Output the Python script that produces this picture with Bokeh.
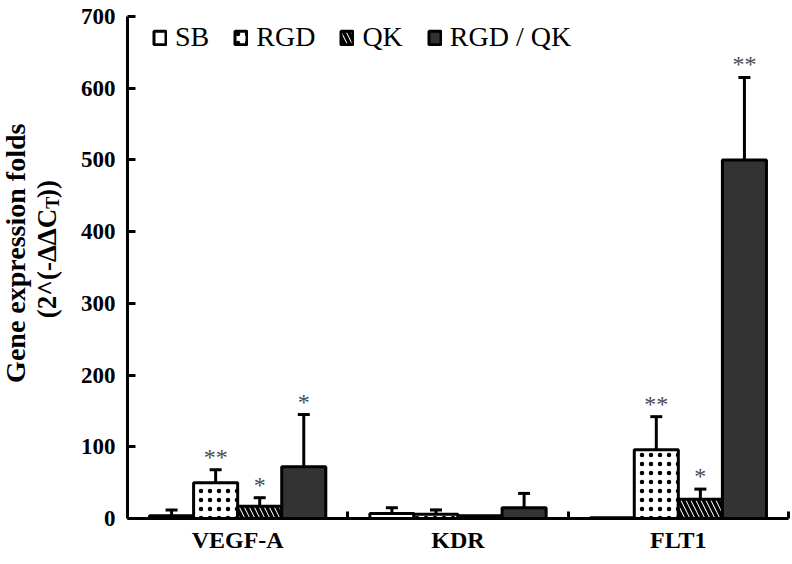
import math
from bokeh.plotting import figure
from bokeh.layouts import row
from bokeh.models import (ColumnDataSource, FixedTicker, Whisker, TeeHead, Label,
                          Legend, LegendItem, Range1d)
from bokeh.embed import file_html
from bokeh.resources import INLINE
from bokeh.core.properties import value

# ---------------- data ----------------
genes = ["VEGF-A", "KDR", "FLT1"]
series = ["SB", "RGD", "QK", "RGD / QK"]

sb = [4, 7, 1]
sb_err = [8, 8, 0]
rgd = [50, 6, 96]
rgd_err = [18, 6, 46]
qk = [17, 4, 27]
qk_err = [12, 0, 14]
rgdqk = [72, 15, 500]
rgdqk_err = [73, 20, 115]

sb_sig = ["", "", ""]
rgd_sig = ["**", "", "**"]
qk_sig = ["*", "", "*"]
rgdqk_sig = ["*", "", "**"]

y_ticks = [0, 100, 200, 300, 400, 500, 600, 700]

values = [sb, rgd, qk, rgdqk]
errors = [sb_err, rgd_err, qk_err, rgdqk_err]
sigs = [sb_sig, rgd_sig, qk_sig, rgdqk_sig]
offsets = [-0.3, -0.1, 0.1, 0.3]
bar_w = 0.2

styles = [
    dict(fill_color="white"),
    dict(fill_color="white", hatch_pattern="dot", hatch_color="black",
         hatch_scale=9, hatch_weight=1),
    dict(fill_color="white", hatch_pattern="left_diagonal_line", hatch_color="black",
         hatch_scale=10, hatch_weight=3.5),
    dict(fill_color="#333333"),
]

SERIF = "Liberation Serif"

W, H = 792, 564
TW = 70                       # width of the strip that holds the y title
BL, BR, BT, BB = 127 - TW, 4, 16, 46
MW = W - TW
FW, FH = MW - BL - BR, H - BT - BB

# ---------------- title strip (pixel coordinates, y measured from the top) ----------------
t = figure(width=TW, height=H, output_backend="svg", toolbar_location=None,
           x_range=Range1d(0, TW), y_range=Range1d(H, 0),
           x_axis_location=None, y_axis_location=None,
           min_border_left=0, min_border_right=0, min_border_top=0, min_border_bottom=0)
t.outline_line_color = None
t.xgrid.visible = False
t.ygrid.visible = False

title_kw = dict(angle=math.pi / 2, text_font=SERIF, text_font_style="bold",
                text_color="black", text_baseline="middle")
t.add_layout(Label(x=15, y=266, text="Gene expression folds", text_align="center",
                   text_font_size="28px", **title_kw))
# second line: "(2^(-ΔΔC" then subscript "T" then "))", reading bottom-to-top
t.add_layout(Label(x=46, y=216, text="(2^(-\u0394\u0394C", text_align="right",
                   text_font_size="27px", **title_kw))
t.add_layout(Label(x=52, y=216, text="T", text_align="left",
                   text_font_size="18px", **title_kw))
t.add_layout(Label(x=46, y=204, text="))", text_align="left",
                   text_font_size="27px", **title_kw))

# ---------------- main chart ----------------
p = figure(width=MW, height=H, output_backend="svg", toolbar_location=None,
           x_range=Range1d(0, 3), y_range=Range1d(0, 700),
           min_border_left=BL, min_border_right=BR, min_border_top=BT,
           min_border_bottom=BB)
p.outline_line_color = None
p.xgrid.visible = False
p.ygrid.visible = False
p.background_fill_color = "white"

legend_items = []
for k, name in enumerate(series):
    xs = [i + 0.5 + offsets[k] for i in range(len(genes))]
    src = ColumnDataSource(dict(x=xs, top=values[k]))
    r = p.vbar(x="x", top="top", width=bar_w, source=src, line_color="black",
               line_width=3, **styles[k])
    legend_items.append(LegendItem(label=name, renderers=[r]))

    wx, wl, wu = [], [], []
    for i in range(len(genes)):
        if errors[k][i] > 0:
            wx.append(xs[i]); wl.append(values[k][i]); wu.append(values[k][i] + errors[k][i])
    wsrc = ColumnDataSource(dict(x=wx, lower=wl, upper=wu))
    w = Whisker(base="x", lower="lower", upper="upper", source=wsrc, dimension="height",
                line_color="black", line_width=3, lower_head=None,
                upper_head=TeeHead(size=12, line_width=3, line_color="black"))
    p.add_layout(w)

    ssrc = ColumnDataSource(dict(x=xs, y=[values[k][i] + errors[k][i] for i in range(len(genes))],
                                 t=sigs[k]))
    p.text(x="x", y="y", text="t", source=ssrc, text_font=value(SERIF),
           text_font_size="24px", text_align="center", text_baseline="alphabetic",
           y_offset=-13, text_color="#4a4a4a")

# axes
xa = p.xaxis[0]
xa.ticker = FixedTicker(ticks=[i + 0.5 for i in range(len(genes))],
                        minor_ticks=[1, 2, 3])
xa.major_label_overrides = {i + 0.5: g for i, g in enumerate(genes)}
xa.major_tick_in = 0
xa.major_tick_out = 0
xa.minor_tick_in = 7
xa.minor_tick_out = 0
xa.minor_tick_line_width = 3
xa.axis_line_width = 3
xa.major_label_text_font = SERIF
xa.major_label_text_font_style = "bold"
xa.major_label_text_font_size = "24px"
xa.major_label_text_color = "black"
xa.major_label_standoff = 8

ya = p.yaxis[0]
ya.ticker = FixedTicker(ticks=y_ticks, minor_ticks=[])
ya.major_tick_in = 8
ya.major_tick_out = 0
ya.major_tick_line_width = 3
ya.axis_line_width = 3
ya.major_label_text_font = SERIF
ya.major_label_text_font_style = "bold"
ya.major_label_text_font_size = "23px"
ya.major_label_text_color = "black"
ya.major_label_standoff = 12

# legend: location = (px from frame left, px from frame bottom to legend bottom)
legend = Legend(items=legend_items, orientation="horizontal", location=(25, FH - 37),
                label_text_font=SERIF, label_text_font_size="28px",
                label_text_color="black", glyph_width=15, glyph_height=17,
                label_standoff=8, spacing=24, padding=0, margin=0,
                background_fill_alpha=0, border_line_alpha=0)
p.add_layout(legend)

layout = row(t, p, spacing=0)
open("out.html", "w").write(file_html(layout, INLINE))
